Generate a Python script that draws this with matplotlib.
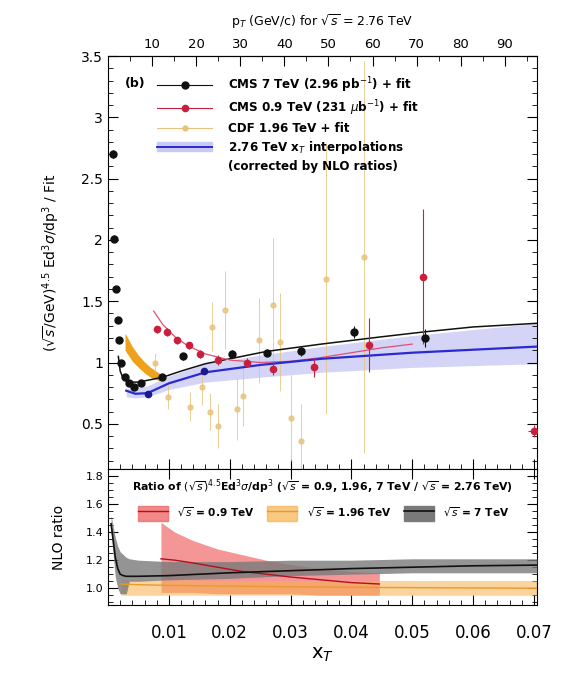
import numpy as np
import matplotlib
matplotlib.use("Agg")
import matplotlib.pyplot as plt
from matplotlib.lines import Line2D
from matplotlib.patches import Patch
from matplotlib.ticker import MultipleLocator, FixedLocator, FormatStrFormatter

plt.rcParams['font.family'] = ['DejaVu Sans']
plt.rcParams['mathtext.fontset'] = 'dejavusans'

# ---- upper panel: data / fit ----
cms7_x = [0.0008, 0.0010, 0.0013, 0.0016, 0.0018, 0.0021, 0.0028, 0.0035, 0.0043, 0.0054,
          0.0089, 0.0123, 0.0204, 0.0261, 0.0318, 0.0405, 0.0521]
cms7_y = [2.70, 2.01, 1.60, 1.35, 1.18, 1.00, 0.88, 0.83, 0.80, 0.83,
          0.88, 1.05, 1.07, 1.08, 1.09, 1.25, 1.20]
cms7_err = [0.03, 0.03, 0.02, 0.02, 0.02, 0.02, 0.02, 0.02, 0.02, 0.02,
            0.02, 0.03, 0.03, 0.03, 0.04, 0.05, 0.07]

cms09_x = [0.0080, 0.0097, 0.0114, 0.0133, 0.0152, 0.0181, 0.0228, 0.0272, 0.0338, 0.0429, 0.0518, 0.0700]
cms09_y = [1.27, 1.25, 1.18, 1.14, 1.07, 1.02, 1.00, 0.95, 0.96, 1.14, 1.70, 0.44]
cms09_err = [0.03, 0.03, 0.03, 0.03, 0.03, 0.04, 0.04, 0.05, 0.08, 0.22, 0.55, 0.05]

cdf_x = [0.0078, 0.0098, 0.0135, 0.0155, 0.0168, 0.0171, 0.0180, 0.0192, 0.0212,
         0.0222, 0.0248, 0.0272, 0.0283, 0.0300, 0.0318, 0.0359, 0.0421]
cdf_y = [1.00, 0.72, 0.64, 0.80, 0.60, 1.29, 0.48, 1.43, 0.62,
         0.73, 1.18, 1.47, 1.17, 0.55, 0.36, 1.68, 1.86]
cdf_err = [0.08, 0.10, 0.12, 0.15, 0.15, 0.20, 0.18, 0.32, 0.25,
           0.25, 0.35, 0.55, 0.40, 0.35, 0.30, 1.10, 1.60]

interp_pts_x = [0.0065, 0.0157]
interp_pts_y = [0.74, 0.93]

fit7_x = [0.0017, 0.002, 0.0025, 0.003, 0.004, 0.005, 0.007, 0.009, 0.012, 0.016,
          0.02, 0.026, 0.035, 0.045, 0.052, 0.06, 0.0705]
fit7_y = [1.05, 0.93, 0.87, 0.85, 0.84, 0.84, 0.86, 0.88, 0.93, 0.99,
          1.03, 1.09, 1.15, 1.21, 1.25, 1.29, 1.32]

fit09_x = [0.0075, 0.009, 0.011, 0.013, 0.016, 0.02, 0.025, 0.03, 0.035, 0.04, 0.045, 0.05]
fit09_y = [1.42, 1.31, 1.21, 1.14, 1.07, 1.02, 1.00, 1.01, 1.04, 1.08, 1.12, 1.15]

cdffit_x = [0.0028, 0.004, 0.005, 0.006, 0.007, 0.0085]
cdffit_y = [1.17, 1.07, 1.01, 0.96, 0.92, 0.88]
cdffit_w = [0.07, 0.06, 0.05, 0.045, 0.04, 0.03]

interp_x = [0.003, 0.0045, 0.0065, 0.01, 0.016, 0.025, 0.035, 0.05, 0.0705]
interp_y = [0.77, 0.745, 0.75, 0.83, 0.92, 0.98, 1.03, 1.08, 1.13]
interp_lo = [0.72, 0.71, 0.72, 0.78, 0.84, 0.88, 0.92, 0.96, 0.99]
interp_hi = [0.79, 0.79, 0.81, 0.89, 0.99, 1.06, 1.13, 1.22, 1.32]

pt_ticks = [10, 20, 30, 40, 50, 60, 70, 80, 90]

# ---- lower panel: NLO ratios ----
r7_x = [0.0005, 0.0008, 0.0012, 0.0016, 0.002, 0.0025, 0.003, 0.0035, 0.005, 0.01, 0.02, 0.03, 0.04, 0.05, 0.06, 0.0705]
r7_y = [1.46, 1.36, 1.22, 1.14, 1.10, 1.09, 1.085, 1.085, 1.085, 1.09, 1.11, 1.125, 1.14, 1.15, 1.16, 1.165]
r7_lo = [1.40, 1.26, 1.08, 1.00, 0.96, 0.96, 0.96, 1.05, 1.05, 1.06, 1.07, 1.09, 1.10, 1.11, 1.11, 1.11]
r7_hi = [1.52, 1.45, 1.36, 1.30, 1.26, 1.24, 1.22, 1.21, 1.20, 1.19, 1.19, 1.20, 1.20, 1.21, 1.21, 1.21]

r196_x = [0.0021, 0.005, 0.01, 0.02, 0.03, 0.045, 0.0705]
r196_y = [1.03, 1.025, 1.02, 1.015, 1.01, 1.005, 1.00]
r196_lo = [0.95, 0.95, 0.95, 0.95, 0.95, 0.95, 0.95]
r196_hi = [1.06, 1.06, 1.06, 1.055, 1.055, 1.055, 1.055]

r09_x = [0.0087, 0.011, 0.014, 0.018, 0.022, 0.026, 0.03, 0.035, 0.04, 0.0446]
r09_y = [1.21, 1.20, 1.18, 1.15, 1.12, 1.10, 1.08, 1.06, 1.04, 1.03]
r09_lo = [0.97, 0.97, 0.97, 0.96, 0.96, 0.96, 0.96, 0.95, 0.95, 0.95]
r09_hi = [1.47, 1.40, 1.34, 1.28, 1.24, 1.20, 1.17, 1.14, 1.12, 1.11]

SQRT_S_HALF = 2760.0 / 2.0

black = '#111111'
red = '#c8203c'
tan = '#e6c27a'
blue = '#2a2ad0'

fig = plt.figure(figsize=(5.73, 6.76), dpi=100)
ax = fig.add_axes([0.1885, 0.306, 0.7485, 0.611])
ax2 = fig.add_axes([0.1885, 0.105, 0.7485, 0.201], sharex=ax)

ax.fill_between(interp_x, interp_lo, interp_hi, color='#cacaf4', alpha=0.8, lw=0, zorder=1)
ax.plot(interp_x, interp_y, color=blue, lw=1.6, zorder=4)
ax.fill_between(cdffit_x, np.array(cdffit_y) - np.array(cdffit_w),
                np.array(cdffit_y) + np.array(cdffit_w), color='#eea21c', lw=0, zorder=2)
ax.plot(fit7_x, fit7_y, color=black, lw=1.1, zorder=3)
ax.plot(fit09_x, fit09_y, color='#e05070', lw=0.9, zorder=3)

ax.errorbar(cdf_x, cdf_y, yerr=cdf_err, fmt='o', ms=3.5, color=tan, ecolor=tan,
            elinewidth=0.7, alpha=0.8, zorder=2)
ax.errorbar(cms09_x, cms09_y, yerr=cms09_err, xerr=[0] * 11 + [0.001], fmt='o', ms=4.5,
            color=red, ecolor=red, elinewidth=0.8, zorder=5)
ax.errorbar(cms7_x, cms7_y, yerr=cms7_err, fmt='o', ms=5, color=black, ecolor=black,
            elinewidth=0.8, zorder=6)
ax.plot(interp_pts_x, interp_pts_y, 'o', ms=4.5, color='#1a1a90', zorder=6)

ax.set_xlim(0, 0.0705)
ax.set_ylim(0.13, 3.5)
ax.set_ylabel(r'$(\sqrt{s}$/GeV$)^{4.5}$ Ed$^3\sigma$/dp$^3$ / Fit', fontsize=10, labelpad=14)
ax.yaxis.set_major_locator(MultipleLocator(0.5))
ax.yaxis.set_minor_locator(MultipleLocator(0.1))
ax.yaxis.set_major_formatter(FormatStrFormatter('%g'))
ax.tick_params(labelbottom=False)

top = ax.secondary_xaxis('top', functions=(lambda x: x * SQRT_S_HALF, lambda p: p / SQRT_S_HALF))
top.xaxis.set_major_locator(FixedLocator(pt_ticks))
top.xaxis.set_minor_locator(MultipleLocator(5))
top.tick_params(which='both', direction='in', labelsize=9.5)
top.tick_params(which='major', length=7)
top.tick_params(which='minor', length=3.5)
top.set_xlabel(r'p$_T$ (GeV/c) for $\sqrt{s}$ = 2.76 TeV', fontsize=9, labelpad=9)

ax.text(0.04, 0.925, '(b)', transform=ax.transAxes, fontsize=9, fontweight='bold')
handles = [
    Line2D([], [], color=black, marker='o', ms=5, lw=0.8),
    Line2D([], [], color=red, marker='o', ms=4.5, lw=0.8),
    Line2D([], [], color=tan, marker='o', ms=3.5, lw=0.8),
    (Patch(color='#cacaf4'), Line2D([], [], color=blue, lw=1.4)),
    Line2D([], [], color='none'),
]
labels = [
    r'CMS 7 TeV (2.96 pb$^{-1}$) + fit',
    r'CMS 0.9 TeV (231 $\mu$b$^{-1}$) + fit',
    'CDF 1.96 TeV + fit',
    r'2.76 TeV x$_T$ interpolations',
    '(corrected by NLO ratios)',
]
ax.legend(handles, labels, loc='upper left', bbox_to_anchor=(0.09, 0.98), frameon=False,
          handlelength=4.6, handletextpad=1.3, labelspacing=0.32,
          prop={'size': 8.6, 'weight': 'bold'})

# lower panel
ax2.fill_between(r09_x, r09_lo, r09_hi, color='#f06a6a', alpha=0.7, lw=0, zorder=1)
ax2.fill_between(r196_x, r196_lo, r196_hi, color='#f7b24c', alpha=0.55, lw=0, zorder=2)
ax2.fill_between(r7_x, r7_lo, r7_hi, color='#7a7a7a', alpha=0.8, lw=0, zorder=3)
ax2.plot(r09_x, r09_y, color='#b01020', lw=1.0, zorder=4)
ax2.plot(r196_x, r196_y, color='#e89a30', lw=1.0, zorder=4)
ax2.plot(r7_x, r7_y, color=black, lw=1.2, zorder=5)

ax2.set_ylim(0.88, 1.85)
ax2.yaxis.set_major_locator(MultipleLocator(0.2))
ax2.yaxis.set_minor_locator(MultipleLocator(0.05))
ax2.yaxis.set_major_formatter(FormatStrFormatter('%.1f'))
ax2.set_ylabel('NLO ratio', fontsize=10, labelpad=14)
ax2.set_xlabel(r'x$_T$', fontsize=14, labelpad=2)
ax2.xaxis.set_minor_locator(MultipleLocator(0.002))
ax2.set_xticks([0.01, 0.02, 0.03, 0.04, 0.05, 0.06, 0.07])
ax2.xaxis.set_major_formatter(FormatStrFormatter('%g'))

ax2.text(0.5, 0.87, r'Ratio of $(\sqrt{s})^{4.5}$Ed$^3\sigma$/dp$^3$ ($\sqrt{s}$ = 0.9, 1.96, 7 TeV / $\sqrt{s}$ = 2.76 TeV)',
         transform=ax2.transAxes, ha='center', va='center', fontsize=7.8, fontweight='bold')
lh = [
    (Patch(color='#f06a6a', alpha=0.8), Line2D([], [], color='#b01020', lw=1.0)),
    (Patch(color='#f7b24c', alpha=0.7), Line2D([], [], color='#e89a30', lw=1.0)),
    (Patch(color='#7a7a7a'), Line2D([], [], color=black, lw=1.2)),
]
ax2.legend(lh, [r'$\sqrt{s}$ = 0.9 TeV', r'$\sqrt{s}$ = 1.96 TeV', r'$\sqrt{s}$ = 7 TeV'],
           loc='upper center', bbox_to_anchor=(0.503, 0.8), ncol=3, frameon=False,
           handlelength=2.8, handleheight=1.8, columnspacing=1.2, handletextpad=0.9,
           prop={'size': 7.6, 'weight': 'bold'})

for a in (ax, ax2):
    a.tick_params(which='both', direction='in', right=True)
    a.tick_params(which='major', length=7)
    a.tick_params(which='minor', length=3.5)
ax.tick_params(axis='y', labelsize=10)
ax2.tick_params(axis='y', labelsize=8)
ax2.tick_params(axis='x', labelsize=12, pad=14, top=True)

fig.savefig('out.png', dpi=100)
